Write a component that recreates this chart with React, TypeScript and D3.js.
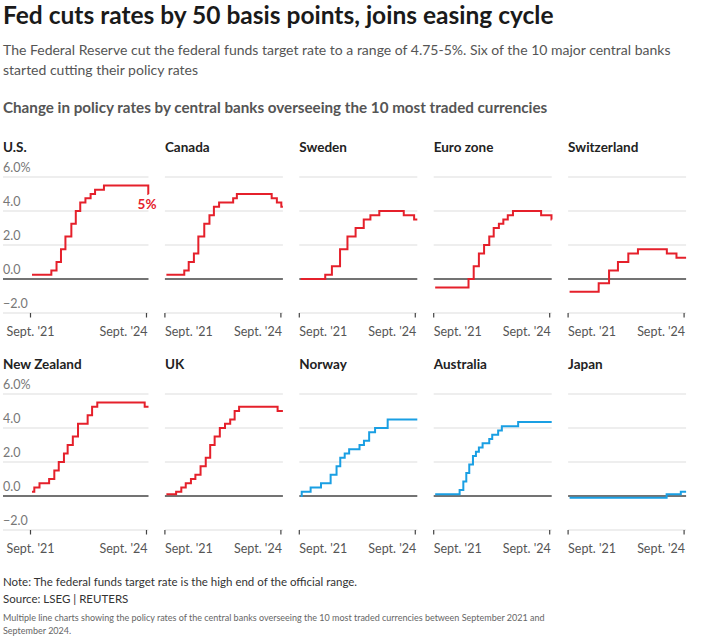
import { useEffect } from "react";
import * as d3 from "d3";

const FONT = "'Source Sans Pro', Lato, sans-serif";
const RED = "#e5202b";
const BLUE = "#1a9fe3";

type Pt = [string, number];

// policy rate change dates and levels (%)
const US: Pt[] = [["2021-09-15", 0.25], ["2022-03-17", 0.5], ["2022-05-05", 1.0], ["2022-06-16", 1.75], ["2022-07-28", 2.5], ["2022-09-22", 3.25], ["2022-11-03", 4.0], ["2022-12-15", 4.5], ["2023-02-02", 4.75], ["2023-03-23", 5.0], ["2023-05-04", 5.25], ["2023-07-27", 5.5], ["2024-09-18", 5.0], ["2024-09-20", 5.0]];
const CANADA: Pt[] = [["2021-09-15", 0.25], ["2022-03-03", 0.5], ["2022-04-14", 1.0], ["2022-06-02", 1.5], ["2022-07-14", 2.5], ["2022-09-08", 3.25], ["2022-10-27", 3.75], ["2022-12-08", 4.25], ["2023-01-26", 4.5], ["2023-06-08", 4.75], ["2023-07-13", 5.0], ["2024-06-06", 4.75], ["2024-07-25", 4.5], ["2024-09-05", 4.25], ["2024-09-20", 4.25]];
const SWEDEN: Pt[] = [["2021-09-15", 0], ["2022-05-04", 0.25], ["2022-07-06", 0.75], ["2022-09-21", 1.75], ["2022-11-30", 2.5], ["2023-02-15", 3.0], ["2023-05-03", 3.5], ["2023-07-05", 3.75], ["2023-09-27", 4.0], ["2024-05-15", 3.75], ["2024-08-21", 3.5], ["2024-09-20", 3.5]];
const EURO: Pt[] = [["2021-09-15", -0.5], ["2022-07-27", 0], ["2022-09-14", 0.75], ["2022-11-02", 1.5], ["2022-12-21", 2.0], ["2023-02-08", 2.5], ["2023-03-22", 3.0], ["2023-05-10", 3.25], ["2023-06-21", 3.5], ["2023-08-02", 3.75], ["2023-09-20", 4.0], ["2024-06-12", 3.75], ["2024-09-18", 3.5], ["2024-09-20", 3.5]];
const SWISS: Pt[] = [["2021-09-15", -0.75], ["2022-06-17", -0.25], ["2022-09-23", 0.5], ["2022-12-16", 1.0], ["2023-03-24", 1.5], ["2023-06-23", 1.75], ["2024-03-22", 1.5], ["2024-06-21", 1.25], ["2024-09-20", 1.25]];
const NZ: Pt[] = [["2021-09-15", 0.25], ["2021-10-07", 0.5], ["2021-11-25", 0.75], ["2022-02-24", 1.0], ["2022-04-14", 1.5], ["2022-05-26", 2.0], ["2022-07-14", 2.5], ["2022-08-18", 3.0], ["2022-10-06", 3.5], ["2022-11-24", 4.25], ["2023-02-23", 4.75], ["2023-04-06", 5.25], ["2023-05-25", 5.5], ["2024-08-15", 5.25], ["2024-09-20", 5.25]];
const UK: Pt[] = [["2021-09-15", 0.1], ["2021-12-16", 0.25], ["2022-02-03", 0.5], ["2022-03-17", 0.75], ["2022-05-05", 1.0], ["2022-06-16", 1.25], ["2022-08-04", 1.75], ["2022-09-22", 2.25], ["2022-11-03", 3.0], ["2022-12-15", 3.5], ["2023-02-02", 4.0], ["2023-03-23", 4.25], ["2023-05-11", 4.5], ["2023-06-22", 5.0], ["2023-08-03", 5.25], ["2024-08-01", 5.0], ["2024-09-20", 5.0]];
const NORWAY: Pt[] = [["2021-09-15", 0], ["2021-09-24", 0.25], ["2021-12-17", 0.5], ["2022-03-25", 0.75], ["2022-06-24", 1.25], ["2022-08-19", 1.75], ["2022-09-23", 2.25], ["2022-11-04", 2.5], ["2022-12-16", 2.75], ["2023-03-24", 3.0], ["2023-05-05", 3.25], ["2023-06-23", 3.75], ["2023-08-18", 4.0], ["2023-12-15", 4.5], ["2024-09-20", 4.5]];
const AUSTRALIA: Pt[] = [["2021-09-15", 0.1], ["2022-05-04", 0.35], ["2022-06-08", 0.85], ["2022-07-06", 1.35], ["2022-08-03", 1.85], ["2022-09-07", 2.35], ["2022-10-05", 2.6], ["2022-11-02", 2.85], ["2022-12-07", 3.1], ["2023-02-08", 3.35], ["2023-03-08", 3.6], ["2023-05-03", 3.85], ["2023-06-07", 4.1], ["2023-11-08", 4.35], ["2024-09-20", 4.35]];
const JAPAN: Pt[] = [["2021-09-15", -0.1], ["2024-03-20", 0.1], ["2024-08-01", 0.25], ["2024-09-20", 0.25]];

const NAMES = ["U.S.", "Canada", "Sweden", "Euro zone", "Switzerland", "New Zealand", "UK", "Norway", "Australia", "Japan"];
const SERIES = [US, CANADA, SWEDEN, EURO, SWISS, NZ, UK, NORWAY, AUSTRALIA, JAPAN];
const CUT = [true, true, true, true, true, true, true, false, false, false];

const Y_TICKS = [-2, 0, 2, 4, 6];
const X_TICKS = ["2021-09-01", "2024-09-01"];
const X_TICK_LABELS = ["Sept. '21", "Sept. '24"];

const W = 714;
const H = 643;
const COL0 = 30.5;
const COL_STEP = 134.4;
const PW = 118;
const ROW_TOP = [177, 394];
const PH = 136;

const parse = d3.utcParse("%Y-%m-%d");
const x = d3.scaleUtc().domain([parse("2021-09-01")!, parse("2024-09-20")!]).range([0, PW]);
const y = d3.scaleLinear().domain([-2, 6]).range([PH, 0]);
const line = d3
  .line<Pt>()
  .x((d) => x(parse(d[0])!))
  .y((d) => y(d[1]))
  .curve(d3.curveStepAfter);

function fmtY(v: number, top: boolean) {
  const s = Math.abs(v).toFixed(1);
  return (v < 0 ? "\u2212" : "") + s + (top ? "%" : "");
}

function Panel({ i }: { i: number }) {
  const col = i % 5;
  const row = Math.floor(i / 5);
  const left = COL0 + COL_STEP * col;
  const top = ROW_TOP[row];
  const gridLeft = col === 0 ? 3 - left : 0;
  const color = CUT[i] ? RED : BLUE;
  return (
    <g transform={`translate(${left},${top})`}>
      <text x={col === 0 ? 3 - left : 0} y={-25} fontFamily={FONT} fontWeight={700} fontSize={13.5} fill="#222">
        {NAMES[i]}
      </text>
      {Y_TICKS.map((t) => (
        <line key={t} x1={gridLeft} x2={PW} y1={y(t)} y2={y(t)} stroke={t === 0 ? "#444" : "#ddd"} strokeWidth={t === 0 ? 1.5 : 1} />
      ))}
      {col === 0 &&
        Y_TICKS.map((t) => (
          <text key={t} x={3 - left} y={y(t) - 5} fontFamily={FONT} fontSize={12.5} fill="#777">
            {fmtY(t, t === 6)}
          </text>
        ))}
      {X_TICKS.map((d, k) => {
        const tx = x(parse(d)!);
        const anchor = k === 1 ? "end" : col === 0 ? "middle" : "start";
        return (
          <g key={d}>
            <line x1={tx} x2={tx} y1={y(-2)} y2={y(-2) + 4.5} stroke="#444" strokeWidth={1.2} />
            <text x={tx + (k === 1 ? 1 : 0)} y={y(-2) + 23} textAnchor={anchor} fontFamily={FONT} fontSize={12.5} fill="#555">
              {X_TICK_LABELS[k]}
            </text>
          </g>
        );
      })}
      <path d={line(SERIES[i]) ?? ""} fill="none" stroke={color} strokeWidth={2} />
      {i === 0 && (
        <text x={PW + 8} y={y(5) + 15} textAnchor="end" fontFamily={FONT} fontWeight={700} fontSize={13.5} fill={RED}>
          5%
        </text>
      )}
    </g>
  );
}

export default function App() {
  useEffect(() => {
    document.body.style.margin = "0";
  }, []);
  return (
    <svg width={W} height={H} style={{ display: "block", background: "#fff" }}>
      <text x={3} y={24} fontFamily={FONT} fontWeight={700} fontSize={24.5} fill="#1a1a1a">
        Fed cuts rates by 50 basis points, joins easing cycle
      </text>
      <text fontFamily={FONT} fontSize={14} fill="#555">
        <tspan x={3} y={55}>The Federal Reserve cut the federal funds target rate to a range of 4.75-5%. Six of the 10 major central banks</tspan>
        <tspan x={3} y={75}>started cutting their policy rates</tspan>
      </text>
      <text x={3} y={113} fontFamily={FONT} fontWeight={700} fontSize={15.2} fill="#555">
        Change in policy rates by central banks overseeing the 10 most traded currencies
      </text>
      {NAMES.map((_, i) => (
        <Panel key={i} i={i} />
      ))}
      <text fontFamily={FONT} fontSize={11.5} fill="#333">
        <tspan x={3} y={586}>Note: The federal funds target rate is the high end of the official range.</tspan>
        <tspan x={3} y={603}>Source: LSEG | REUTERS</tspan>
      </text>
      <text fontFamily={FONT} fontSize={9} fill="#666">
        <tspan x={3} y={621}>Multiple line charts showing the policy rates of the central banks overseeing the 10 most traded currencies between September 2021 and</tspan>
        <tspan x={3} y={634}>September 2024.</tspan>
      </text>
    </svg>
  );
}
